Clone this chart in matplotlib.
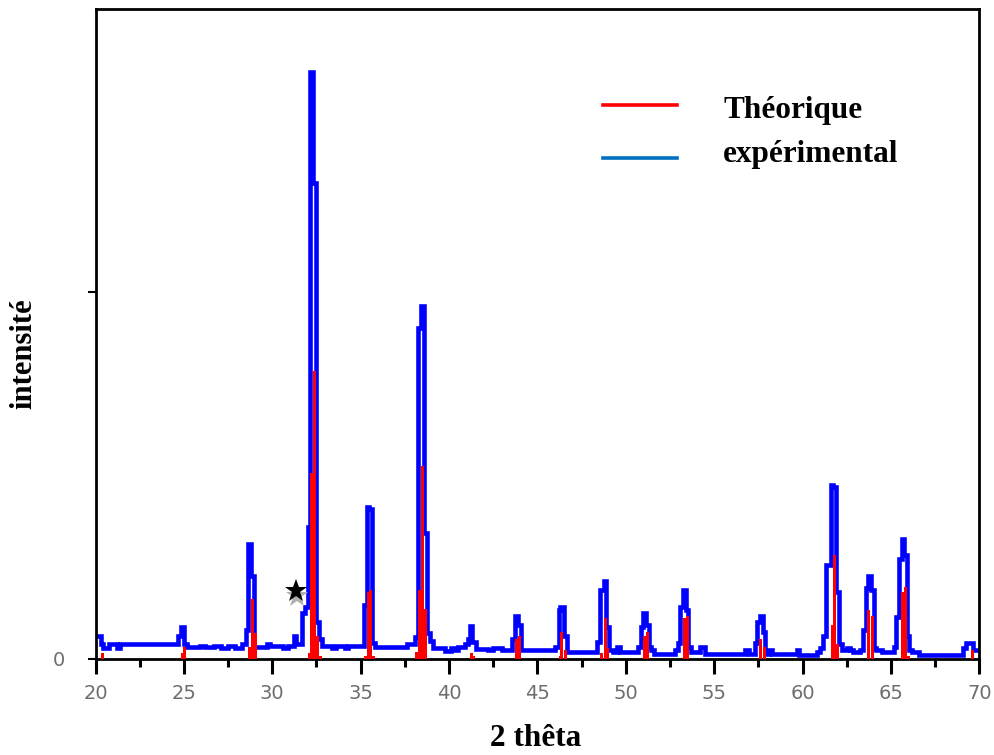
import matplotlib
matplotlib.use("Agg")
import matplotlib.pyplot as plt
from matplotlib.ticker import MultipleLocator
from matplotlib.lines import Line2D

# ---- experimental pattern (left edge of each step, intensity) ----
exp_2theta = [20.0, 20.3, 20.45, 20.75, 21.2, 21.4, 24.65, 24.82, 25.0, 25.2, 25.9, 26.2, 26.7, 27.1,
              27.5, 27.9, 28.3, 28.5, 28.65, 28.82, 28.97, 29.7, 29.85, 30.6, 30.9, 31.22, 31.37,
              31.71, 31.88, 32.05, 32.16, 32.33, 32.5, 32.67, 32.84, 33.4, 33.6, 34.1, 34.3, 35.21,
              35.38, 35.5, 35.67, 35.84, 37.6, 38.08, 38.27, 38.44, 38.61, 38.78, 38.95, 39.1, 39.5,
              39.75, 40.1, 40.36, 40.5, 40.9, 41.05, 41.2, 41.3, 41.5, 42.2, 42.5, 43.0, 43.57, 43.75,
              43.9, 44.08, 46.0, 46.2, 46.3, 46.5, 46.65, 48.4, 48.55, 48.75, 48.9, 49.05, 49.3, 49.5,
              49.7, 50.7, 50.84, 51.0, 51.16, 51.3, 51.45, 51.6, 52.77, 52.93, 53.09, 53.24, 53.39,
              53.54, 53.7, 54.2, 54.5, 56.75, 56.95, 57.3, 57.45, 57.6, 57.74, 57.9, 58.1, 58.25,
              59.69, 59.82, 60.82, 61.0, 61.16, 61.33, 61.6, 61.72, 61.9, 62.09, 62.24, 62.5, 62.7,
              62.85, 63.27, 63.43, 63.57, 63.72, 63.85, 64.02, 64.17, 64.5, 65.15, 65.3, 65.47,
              65.62, 65.76, 65.9, 66.05, 66.2, 66.6, 69.1, 69.25, 69.65, 70.0]
exp_int = [3.5, 2.2, 1.7, 2.2, 1.7, 2.2, 3.5, 4.9, 2.2, 1.8, 2.0, 1.8, 2.0, 1.7,
           2.0, 1.7, 2.2, 4.5, 17.6, 12.8, 1.8, 2.3, 2.0, 1.6, 2.0, 3.5, 2.3,
           7.1, 8.0, 20.2, 90.2, 73.2, 5.7, 3.1, 2.0, 1.6, 2.0, 1.7, 2.0, 8.3,
           23.3, 23.0, 2.5, 1.8, 2.3, 3.3, 50.8, 54.2, 19.3, 4.0, 2.7, 1.7, 1.6,
           1.2, 1.6, 1.3, 1.8, 2.3, 3.1, 5.0, 2.6, 1.5, 1.3, 1.6, 1.4, 3.1, 6.6,
           5.2, 1.4, 1.8, 7.5, 8.0, 3.5, 1.0, 2.6, 10.6, 11.9, 4.9, 1.4, 1.1, 1.8,
           1.0, 1.8, 4.9, 7.1, 5.2, 1.8, 1.3, 0.8, 1.3, 2.4, 8.0, 10.6, 7.5,
           1.8, 1.0, 1.8, 0.7, 1.3, 0.8, 2.4, 5.7, 6.6, 4.1, 0.8, 1.3, 0.7,
           1.4, 0.6, 1.0, 1.7, 3.5, 14.4, 26.8, 26.4, 10.2, 2.3, 1.4, 1.7, 1.4,
           1.0, 1.4, 4.4, 10.9, 12.7, 10.6, 1.7, 1.4, 1.0, 1.8, 6.5, 15.4,
           18.4, 15.9, 3.5, 1.4, 1.0, 0.6, 1.7, 2.5, 1.4, 1.4]

# ---- theoretical pattern (left edge, intensity) ----
th_2theta = [20.3, 24.82, 24.97, 28.65, 28.82, 28.99, 32.05, 32.16, 32.33, 32.5, 32.67,
             35.21, 35.38, 35.5, 35.67, 38.1, 38.27, 38.44, 38.61, 41.2, 41.3, 43.75, 43.9,
             46.2, 46.3, 46.5, 48.55, 48.75, 48.9, 51.0, 51.16, 53.24, 53.39, 57.55, 57.74,
             61.6, 61.72, 61.9, 63.65, 63.85, 65.55, 65.76, 65.9, 69.55]
th_int = [0.9, 0.9, 1.8, 1.8, 9.2, 4.0, 0.9, 28.5, 44.2, 3.5, 0.5,
          0.5, 10.2, 10.6, 0.5, 1.0, 10.6, 29.7, 7.7, 0.9, 0.5, 3.1, 3.5,
          0.5, 4.1, 1.4, 0.9, 6.2, 1.6, 3.5, 4.1, 6.2, 6.6, 3.1, 1.8,
          5.2, 15.9, 2.3, 7.5, 6.6, 10.2, 11.0, 0.5, 1.4]

star_pos = (31.37, 10.5)
legend_labels = ["Théorique", "expérimental"]
xlabel = "2 thêta"
ylabel = "intensité"

W, H = 994, 755
fig = plt.figure(figsize=(W / 100, H / 100), dpi=100)
ax = fig.add_axes([95.5 / W, 1 - 658.8 / H, (979.3 - 95.5) / W, (658.8 - 8.5) / H])

ax.step(exp_2theta, exp_int, where="post", color="#0000FF", lw=3.3, zorder=2,
        solid_joinstyle="miter")
ax.bar(th_2theta, th_int, width=0.17, align="edge", color="#FF0000", zorder=3, linewidth=0)

# star marker with shadow
ax.plot(star_pos[0] + 0.03, star_pos[1] - 0.9, marker="*", color="#b0b0b0", ms=17, zorder=4,
        markeredgewidth=0)
ax.plot(star_pos[0], star_pos[1], marker="*", color="black", ms=17, zorder=5,
        markeredgewidth=0)

ax.set_xlim(20, 70)
ax.set_ylim(0, 100)
ax.xaxis.set_major_locator(MultipleLocator(5))
ax.xaxis.set_minor_locator(MultipleLocator(2.5))
ax.set_yticks([0, 56.4])
ax.set_yticklabels(["0", ""])
ax.tick_params(axis="x", which="major", direction="out", length=11, width=2.2, pad=7,
               labelsize=14, labelcolor="#6e6e6e")
ax.tick_params(axis="x", which="minor", direction="out", length=6, width=2.2)
ax.tick_params(axis="y", which="major", direction="out", length=6, width=1.5, pad=16,
               labelsize=14, labelcolor="#6e6e6e")
for s in ax.spines.values():
    s.set_linewidth(2.0)

serif = ["Liberation Serif", "DejaVu Serif"]

def px(x, y):
    return x / W, 1 - y / H

# legend drawn manually
for (yy, col) in [(105, "#FF0000"), (157.5, "#0070C0")]:
    x0, y0 = px(603, yy)
    x1, _ = px(677, yy)
    fig.add_artist(Line2D([x0, x1], [y0, y0], color=col, lw=2.6, transform=fig.transFigure))
fig.text(*px(723, 118), legend_labels[0], family=serif, weight="bold", fontsize=22.5, va="baseline")
fig.text(*px(723, 162), legend_labels[1], family=serif, weight="bold", fontsize=22.5, va="baseline")

fig.text(*px(536, 746), xlabel, family=serif, weight="bold", fontsize=22.5, ha="center", va="baseline")
fig.text(*px(24, 354), ylabel, family=serif, weight="bold", fontsize=22, ha="center", va="center",
         rotation=90)

fig.savefig("out.png", dpi=100)
